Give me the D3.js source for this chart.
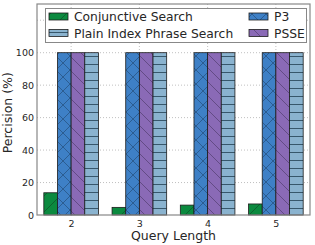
<!DOCTYPE html>
<html>
<head>
<meta charset="utf-8">
<script src="https://cdn.jsdelivr.net/npm/d3@7"></script>
<style>
  body { margin: 0; background: #fff; }
  text { font-family: "DejaVu Sans", sans-serif; fill: #262626; }
</style>
</head>
<body>
<svg id="plot"></svg>
<script>
'use strict';

const width = 315;
const height = 245;
const margin = {top: 4, right: 5, bottom: 30, left: 37};

const queryLengths = [2, 3, 4, 5];
const seriesNames = ['Conjunctive Search', 'P3', 'PSSE', 'Plain Index Phrase Search'];
const conjunctive = [13.7, 4.7, 6.1, 6.8];
const p3 = [100, 100, 100, 100];
const psse = [100, 100, 100, 100];
const plainIndex = [100, 100, 100, 100];
const yTickLabels = [0, 20, 40, 60, 80, 100];
const yGrid = [20, 40, 60, 80, 100, 120];

const seriesValues = [conjunctive, p3, psse, plainIndex];
const colors = ['#0b8a3f', '#3e80c6', '#8a6ab6', '#8ab3cf'];
const patterns = ['hatch-fwd', 'hatch-x', 'hatch-back', 'hatch-plus'];

const svg = d3.select('#plot').attr('width', width).attr('height', height);

function makePatterns() {
    const defs = svg.append('defs');
    // green bar: sparse "/" hatch
    const fwd = defs.append('pattern').attr('id', 'hatch-fwd')
        .attr('patternUnits', 'userSpaceOnUse').attr('width', 16).attr('height', 16);
    fwd.append('rect').attr('width', 16).attr('height', 16).attr('fill', colors[0]);
    fwd.append('path').attr('d', 'M0,16 L16,0 M-4,4 L4,-4 M12,20 L20,12')
        .attr('stroke', '#0f3a1f').attr('stroke-width', 0.5);

    const x = defs.append('pattern').attr('id', 'hatch-x')
        .attr('patternUnits', 'userSpaceOnUse').attr('width', 14).attr('height', 14);
    x.append('rect').attr('width', 14).attr('height', 14).attr('fill', colors[1]);
    x.append('path').attr('d', 'M0,0 L14,14 M0,14 L14,0')
        .attr('stroke', '#1b3a5c').attr('stroke-width', 0.5);

    const back = defs.append('pattern').attr('id', 'hatch-back')
        .attr('patternUnits', 'userSpaceOnUse').attr('width', 14).attr('height', 14);
    back.append('rect').attr('width', 14).attr('height', 14).attr('fill', colors[2]);
    back.append('path').attr('d', 'M0,0 L14,14 M-7,7 L7,21 M7,-7 L21,7')
        .attr('stroke', '#3d2c55').attr('stroke-width', 0.5);

    const plus = defs.append('pattern').attr('id', 'hatch-plus')
        .attr('patternUnits', 'userSpaceOnUse').attr('width', 14).attr('height', 8);
    plus.append('rect').attr('width', 14).attr('height', 8).attr('fill', colors[3]);
    plus.append('path').attr('d', 'M0,0.5 L14,0.5')
        .attr('stroke', '#2e4d60').attr('stroke-width', 0.9);
}

makePatterns();

const xScale = d3.scaleLinear()
    .domain([-0.5, queryLengths.length - 0.5])
    .range([margin.left, width - margin.right]);

const yScale = d3.scaleLinear()
    .domain([0, 130])
    .range([height - margin.bottom, margin.top]);

const barWidth = 0.2;

// grid
svg.append('g').selectAll('line.hgrid')
    .data(yGrid)
    .enter().append('line')
    .attr('x1', xScale.range()[0]).attr('x2', xScale.range()[1])
    .attr('y1', d => yScale(d)).attr('y2', d => yScale(d))
    .attr('stroke', '#b0b0b0').attr('stroke-width', 0.8).attr('stroke-dasharray', '1,2');

svg.append('g').selectAll('line.vgrid')
    .data(queryLengths)
    .enter().append('line')
    .attr('x1', (d, i) => xScale(i)).attr('x2', (d, i) => xScale(i))
    .attr('y1', yScale.range()[0]).attr('y2', yScale.range()[1])
    .attr('stroke', '#b0b0b0').attr('stroke-width', 0.8).attr('stroke-dasharray', '1,2');

// bars
seriesValues.forEach((values, s) => {
    svg.append('g').selectAll('rect')
        .data(values)
        .enter().append('rect')
        .attr('x', (d, i) => xScale(i - 0.4 + s * barWidth))
        .attr('width', xScale(barWidth) - xScale(0))
        .attr('y', d => yScale(d))
        .attr('height', d => yScale(0) - yScale(d))
        .attr('fill', `url(#${patterns[s]})`)
        .attr('stroke', '#1c1c1c').attr('stroke-width', 0.8);
});

// frame
svg.append('rect')
    .attr('x', xScale.range()[0]).attr('y', yScale.range()[1])
    .attr('width', xScale.range()[1] - xScale.range()[0])
    .attr('height', yScale.range()[0] - yScale.range()[1])
    .attr('fill', 'none').attr('stroke', '#888').attr('stroke-width', 1.2);

// axes
const xAxis = d3.axisBottom(xScale)
    .tickValues(queryLengths.map((d, i) => i))
    .tickFormat(i => queryLengths[i])
    .tickSize(0).tickPadding(5);

svg.append('g')
    .attr('transform', `translate(0, ${height - margin.bottom})`)
    .call(xAxis)
    .call(g => g.select('.domain').remove())
    .selectAll('text').style('font-size', '9.5px').style('font-family', '"DejaVu Sans", sans-serif');

const yAxis = d3.axisLeft(yScale)
    .tickValues(yTickLabels)
    .tickSize(0).tickPadding(3);

svg.append('g')
    .attr('transform', `translate(${margin.left}, 0)`)
    .call(yAxis)
    .call(g => g.select('.domain').remove())
    .selectAll('text').style('font-size', '9.5px').style('font-family', '"DejaVu Sans", sans-serif');

svg.append('text')
    .attr('x', (xScale.range()[0] + xScale.range()[1]) / 2)
    .attr('y', 240)
    .attr('text-anchor', 'middle')
    .style('font-size', '12.5px')
    .text('Query Length');

svg.append('text')
    .attr('transform', `translate(12, ${yScale(63)}) rotate(-90)`)
    .attr('text-anchor', 'middle')
    .style('font-size', '12.5px')
    .text('Percision (%)');

// legend
function renderLegend() {
    const legend = svg.append('g');
    legend.append('rect')
        .attr('x', 45.5).attr('y', 8.5).attr('width', 261).attr('height', 34)
        .attr('fill', '#fff').attr('stroke', '#888').attr('stroke-width', 1);

    const order = [0, 3, 1, 2];
    const pos = [[49, 16.5], [49, 33], [249, 16.5], [249, 33]];
    order.forEach((s, k) => {
        const [px, py] = pos[k];
        legend.append('rect')
            .attr('x', px).attr('y', py - 3.5).attr('width', 19).attr('height', 7)
            .attr('fill', `url(#${patterns[s]})`)
            .attr('stroke', '#1c1c1c').attr('stroke-width', 0.8);
        legend.append('text')
            .attr('x', px + 25).attr('y', py + 4.5)
            .style('font-size', '12.3px')
            .text(seriesNames[s]);
    });
}

renderLegend();
</script>
</body>
</html>
